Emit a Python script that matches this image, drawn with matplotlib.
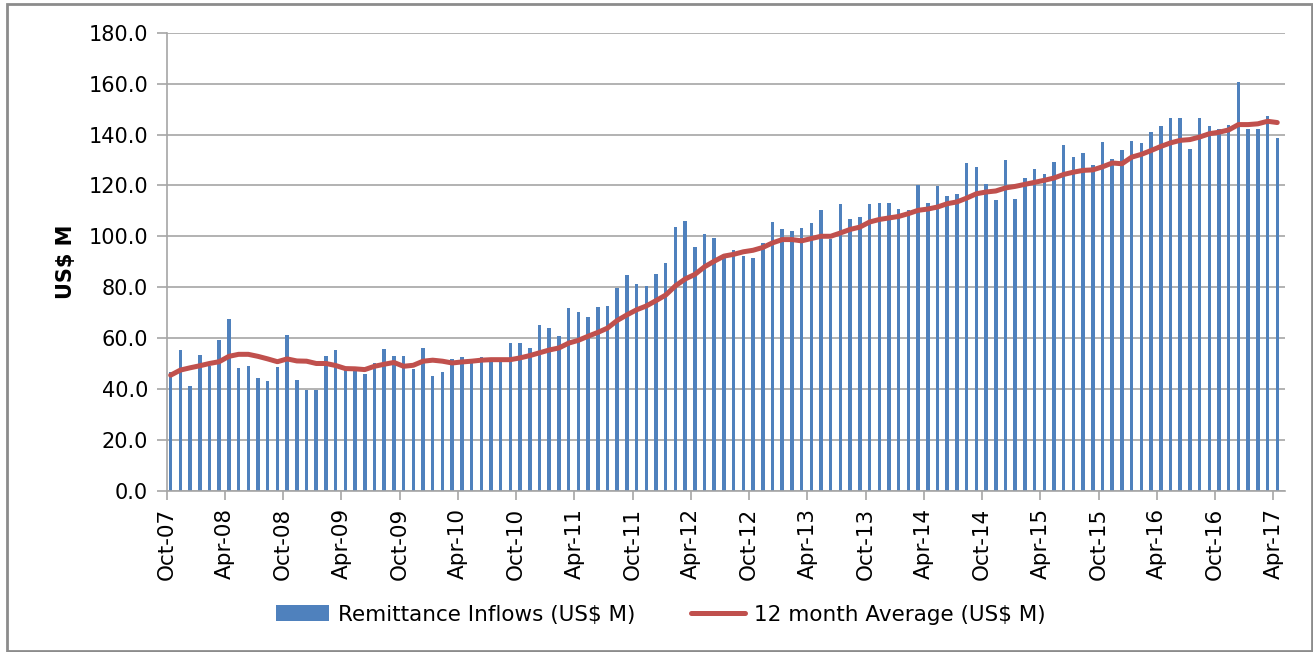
import numpy as np
import matplotlib
matplotlib.use("Agg")
import matplotlib.pyplot as plt
from matplotlib.patches import Rectangle

# monthly remittance inflows, Oct-07 .. Apr-17 (US$ M)
remittance = [
    46.5, 55.4, 41.2, 53.5, 48.9, 59.1, 67.6, 48.3, 49.2, 44.1, 43.2, 48.8,
    61.0, 43.7, 39.7, 39.7, 53.1, 55.4, 47.6, 47.6, 45.8, 50.1, 55.8, 53.0,
    53.0, 47.9, 56.2, 44.9, 46.5, 51.9, 52.4, 50.9, 52.4, 50.9, 50.9, 58.2,
    58.2, 56.2, 65.3, 64.0, 60.9, 71.7, 70.2, 68.3, 72.1, 72.5, 79.8, 84.8,
    81.1, 80.6, 85.3, 89.6, 103.6, 106.0, 95.6, 100.8, 99.3, 92.6, 94.6, 92.2,
    91.5, 97.5, 105.6, 102.7, 102.2, 103.1, 105.1, 110.2, 99.1, 112.5, 106.9, 107.4,
    112.6, 113.2, 113.2, 110.6, 110.2, 120.0, 113.1, 119.7, 115.8, 116.7, 128.8, 127.2,
    120.7, 114.1, 130.1, 114.5, 123.0, 126.3, 124.4, 129.2, 135.7, 131.0, 132.8, 128.2,
    137.1, 130.5, 134.0, 137.3, 136.7, 140.9, 143.3, 146.5, 146.5, 134.4, 146.5, 143.3,
    142.2, 143.9, 160.7, 142.2, 142.2, 147.4, 138.6,
]

# 12 month average (US$ M)
avg12 = [
    45.4, 47.4, 48.3, 49.1, 50.0, 50.7, 52.8, 53.6, 53.6, 52.8, 51.8, 50.7,
    51.8, 51.0, 50.9, 50.0, 50.0, 49.2, 48.0, 47.9, 47.6, 48.9, 49.7, 50.4,
    48.9, 49.3, 50.9, 51.3, 50.9, 50.2, 50.6, 50.9, 51.3, 51.5, 51.5, 51.5,
    52.2, 53.1, 54.2, 55.3, 56.1, 58.0, 59.1, 60.7, 62.2, 63.9, 66.9, 69.1,
    71.1, 72.6, 74.7, 76.9, 80.5, 83.2, 85.0, 88.0, 90.2, 92.2, 92.9, 93.9,
    94.5, 95.6, 97.4, 98.7, 98.7, 98.2, 99.1, 100.0, 100.0, 101.3, 102.7, 103.6,
    105.6, 106.6, 107.2, 107.8, 108.9, 110.2, 110.7, 111.5, 112.8, 113.5, 115.0, 116.7,
    117.4, 117.8, 119.0, 119.6, 120.4, 121.2, 122.0, 122.9, 124.3, 125.2, 125.9, 126.1,
    127.3, 128.8, 128.5, 131.1, 132.2, 133.7, 135.3, 136.7, 137.7, 138.0, 139.0, 140.3,
    140.9, 141.8, 143.9, 143.9, 144.2, 145.2, 144.7,
]

tick_labels = [
    "Oct-07", "Apr-08", "Oct-08", "Apr-09", "Oct-09", "Apr-10", "Oct-10",
    "Apr-11", "Oct-11", "Apr-12", "Oct-12", "Apr-13", "Oct-13", "Apr-14",
    "Oct-14", "Apr-15", "Oct-15", "Apr-16", "Oct-16", "Apr-17",
]

BLUE = "#4F81BD"
RED = "#C0504D"
GRID = "#A6A6A6"

plt.rcParams["font.family"] = ["DejaVu Sans"]

fig = plt.figure(figsize=(13.13, 6.52), dpi=100)
ax = fig.add_axes([0.127, 0.2474, 0.8517, 0.7024])

months = np.arange(len(remittance))
# bars sit a little right of the month tick, as in the Excel date axis
xpos = months + 0.4

bars = ax.bar(xpos, remittance, width=0.36, color=BLUE, zorder=2)
line, = ax.plot(xpos, avg12, color=RED, lw=3.6, solid_capstyle="round", zorder=3)

ax.set_ylim(0, 180)
ax.set_yticks(np.arange(0, 181, 20))
ax.set_yticklabels(["%.1f" % v for v in np.arange(0, 181, 20)], fontsize=15)
ax.set_xlim(0, 115.2)
ax.set_xticks(np.arange(0, len(remittance), 6))
ax.set_xticklabels(tick_labels, rotation=90, fontsize=15.5)

ax.grid(axis="y", color=GRID, lw=1.2, zorder=0)
ax.set_axisbelow(True)
for side in ["top", "right"]:
    ax.spines[side].set_visible(False)
for side in ["left", "bottom"]:
    ax.spines[side].set_color(GRID)
    ax.spines[side].set_linewidth(1.2)
ax.tick_params(axis="y", length=7.5, color=GRID, width=1.2, pad=6)
ax.tick_params(axis="x", length=6.5, color=GRID, width=1.2, pad=6)

ax.set_ylabel("US$ M", fontsize=15, fontweight="bold", labelpad=9)

fig.legend([bars, line], ["Remittance Inflows (US$ M)", "12 month Average (US$ M)"],
           loc="center", bbox_to_anchor=(0.503, 0.057), ncol=2, frameon=False,
           fontsize=15.5, handlelength=2.5, handleheight=0.75, columnspacing=2.6,
           handletextpad=0.4)

# outer chart border
fig.patches.append(Rectangle((7 / 1313, 1 / 652), 1305 / 1313, 647 / 652,
                             transform=fig.transFigure, fill=False,
                             edgecolor="#8C8C8C", lw=2))

fig.savefig("out.png", dpi=100)
